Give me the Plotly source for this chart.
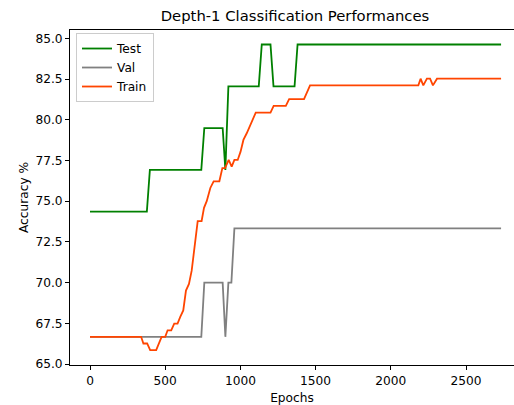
import plotly.graph_objects as go

# ---- data ----
test_epochs = [0, 378, 398, 740, 760, 882, 900, 920, 1122, 1142, 1200, 1220, 1360, 1380, 2733]
test_acc = [74.36, 74.36, 76.92, 76.92, 79.49, 79.49, 76.92, 82.05, 82.05, 84.62, 84.62, 82.05, 82.05, 84.62, 84.62]

val_epochs = [0, 740, 760, 882, 900, 920, 940, 960, 2733]
val_acc = [66.67, 66.67, 70.0, 70.0, 66.67, 70.0, 70.0, 73.33, 73.33]

train_epochs = [0, 340, 355, 380, 400, 440, 476, 500, 516, 540, 560, 582, 600, 620, 638, 658,
                676, 698, 716, 742, 758, 776, 800, 822, 860, 880, 898, 922, 942, 960, 982,
                1001, 1020, 1042, 1069, 1102, 1200, 1221, 1302, 1324, 1423, 1463, 2183, 2198,
                2216, 2240, 2261, 2280, 2307, 2733]
train_acc = [66.67, 66.67, 66.26, 66.26, 65.85, 65.85, 66.67, 66.67, 67.07, 67.07, 67.48, 67.48,
             67.89, 68.29, 69.51, 69.92, 70.73, 72.36, 73.78, 73.78, 74.59, 75.0, 75.81, 76.22,
             76.22, 77.03, 77.03, 77.53, 77.12, 77.53, 77.53, 78.04, 78.76, 79.17, 79.79, 80.44,
             80.44, 80.85, 80.85, 81.26, 81.26, 82.11, 82.11, 82.52, 82.11, 82.52, 82.52, 82.11,
             82.52, 82.52]

y_ticks = [65.0, 67.5, 70.0, 72.5, 75.0, 77.5, 80.0, 82.5, 85.0]
x_ticks = [0, 500, 1000, 1500, 2000, 2500]

FONT = "DejaVu Sans"
LW = 1.8
FS = 12.2

fig = go.Figure()
fig.add_trace(go.Scatter(x=test_epochs, y=test_acc, mode="lines", name="Test",
                         line=dict(color="#008000", width=LW)))
fig.add_trace(go.Scatter(x=val_epochs, y=val_acc, mode="lines", name="Val",
                         line=dict(color="#808080", width=LW)))
fig.add_trace(go.Scatter(x=train_epochs, y=train_acc, mode="lines", name="Train",
                         line=dict(color="#FF4500", width=LW)))

fig.update_layout(
    width=514, height=405,
    margin=dict(l=70, r=0, t=30, b=40),
    paper_bgcolor="white", plot_bgcolor="white",
    font=dict(family=FONT, size=FS, color="black"),
    title=dict(text="Depth-1 Classification Performances", x=295 / 514, xref="container",
               xanchor="center", y=1 - 16 / 405, yref="container", yanchor="middle",
               font=dict(family=FONT, size=14.8, color="black")),
    showlegend=True,
    legend=dict(x=0.0135, y=0.991, xanchor="left", yanchor="top",
                bgcolor="rgba(255,255,255,0.8)", bordercolor="#cccccc", borderwidth=1,
                font=dict(family=FONT, size=FS, color="black")),
    xaxis=dict(range=[-133, 2819], tickvals=x_ticks, ticks="outside", ticklen=4, tickwidth=1,
               tickcolor="black", showline=True, linecolor="black", linewidth=1, mirror=True,
               showgrid=False, zeroline=False,
               title=dict(text="Epochs", standoff=6, font=dict(family=FONT, size=FS))),
    yaxis=dict(range=[64.94, 85.51], tickvals=y_ticks, tickformat=".1f", ticks="outside",
               ticklen=4, tickwidth=1, tickcolor="black", showline=True, linecolor="black",
               linewidth=1, showgrid=False, zeroline=False,
               title=dict(text="Accuracy %", standoff=4, font=dict(family=FONT, size=FS))),
)

fig.write_html("out.html")
